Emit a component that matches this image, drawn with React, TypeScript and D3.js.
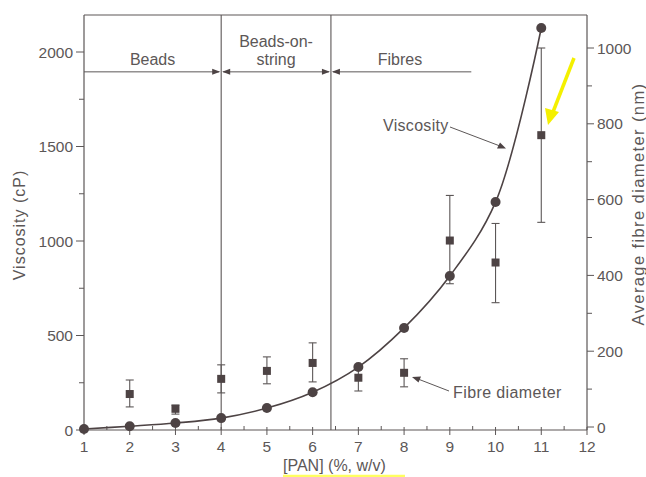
import * as d3 from "d3";

// [PAN] concentration (%, w/v)
const conc = [1, 2, 3, 4, 5, 6, 7, 8, 9, 10, 11];
// viscosity (cP), left axis
const viscosity = [5, 20, 37, 63, 116, 200, 333, 540, 815, 1206, 2127];
// average fibre diameter (nm), right axis, with error bar ends
const diamConc = [2, 3, 4, 5, 6, 7, 8, 9, 10, 11];
const diameter = [87, 48, 127, 148, 169, 130, 143, 492, 434, 770];
const diamLow = [53, 34, 90, 114, 119, 95, 106, 378, 328, 540];
const diamHigh = [124, 58, 164, 185, 222, 156, 180, 611, 537, 1000];

const xTicks = [1, 2, 3, 4, 5, 6, 7, 8, 9, 10, 11, 12];
const leftTicks = [0, 500, 1000, 1500, 2000];
const rightTicks = [0, 200, 400, 600, 800, 1000];

// morphology regions (boundaries in % w/v)
const regionBounds = [4, 6.4];
const regionArrowLevel = 1895;
const fibresArrowEnd = 9.47;

const ink = "#4d4344";
const grey = "#5c5757";
const font = "'Liberation Sans', Arial, sans-serif";

export default function App() {
  const W = 646;
  const H = 477;
  const x = d3.scaleLinear().domain([1, 12]).range([84, 587]);
  const yL = d3.scaleLinear().domain([0, 2000]).range([430, 52]);
  const yR = d3.scaleLinear().domain([0, 1000]).range([427, 48]);
  const top = 15;
  const bottom = yL(0);

  const line = d3
    .line<number>()
    .x((_, i) => x(conc[i]))
    .y((d) => yL(d))
    .curve(d3.curveCatmullRom.alpha(0.5));

  const leftMinor = d3.range(250, 2250, 500);
  const rightMinor = d3.range(100, 1100, 200);
  const xMinor = d3.range(1.5, 12, 1);

  const arrowY = yL(regionArrowLevel);
  const head = (tipX: number, y: number, dir: number) =>
    `M${tipX},${y} L${tipX - dir * 8},${y - 3} L${tipX - dir * 8},${y + 3} Z`;

  const tickFs = 15.5;
  const annFs = 16;

  return (
    <div style={{ position: "fixed", left: 0, top: 0, width: W, height: H, background: "#fff" }}>
      <svg width={W} height={H} fontFamily={font}>
        {/* frame */}
        <line x1={x(1)} x2={x(12)} y1={top} y2={top} stroke={grey} strokeWidth={1.2} />
        <line x1={x(1)} x2={x(1)} y1={top} y2={bottom} stroke={grey} strokeWidth={1.2} />
        <line x1={x(12)} x2={x(12)} y1={top} y2={bottom} stroke={grey} strokeWidth={1.2} />
        <line x1={x(1)} x2={x(12)} y1={bottom} y2={bottom} stroke={grey} strokeWidth={1.2} />

        {/* x axis ticks */}
        {xTicks.map((t) => (
          <g key={t}>
            <line x1={x(t)} x2={x(t)} y1={bottom - 3} y2={bottom + 5} stroke={grey} />
            <text x={x(t)} y={bottom + 22} textAnchor="middle" fontSize={tickFs} fill={grey}>
              {t}
            </text>
          </g>
        ))}
        {xMinor.map((t) => (
          <line key={t} x1={x(t)} x2={x(t)} y1={bottom - 4} y2={bottom} stroke={grey} />
        ))}

        {/* left axis */}
        {leftTicks.map((t) => (
          <g key={t}>
            <line x1={x(1) - 8} x2={x(1)} y1={yL(t)} y2={yL(t)} stroke={grey} />
            <text x={x(1) - 11} y={yL(t) + 5.5} textAnchor="end" fontSize={tickFs} fill={grey}>
              {t}
            </text>
          </g>
        ))}
        {leftMinor.map((t) => (
          <line key={t} x1={x(1) - 5} x2={x(1)} y1={yL(t)} y2={yL(t)} stroke={grey} />
        ))}

        {/* right axis */}
        {rightTicks.map((t) => (
          <g key={t}>
            <line x1={x(12)} x2={x(12) + 7} y1={yR(t)} y2={yR(t)} stroke={grey} />
            <text x={x(12) + 10} y={yR(t) + 5.5} textAnchor="start" fontSize={tickFs} fill={grey}>
              {t}
            </text>
          </g>
        ))}
        {rightMinor.map((t) => (
          <line key={t} x1={x(12)} x2={x(12) + 5} y1={yR(t)} y2={yR(t)} stroke={grey} />
        ))}

        {/* axis titles */}
        <text
          transform={`translate(25,225) rotate(-90)`}
          textAnchor="middle"
          fontSize={16}
          letterSpacing={1}
          fill={grey}
        >
          Viscosity (cP)
        </text>
        <text
          transform={`translate(644,204) rotate(-90)`}
          textAnchor="middle"
          fontSize={16.5}
          letterSpacing={1.4}
          fill={grey}
        >
          Average fibre diameter (nm)
        </text>
        <text x={283} y={471} fontSize={annFs} fill={grey}>
          [PAN] (%, w/v)
        </text>
        <line x1={283} x2={405} y1={476} y2={476} stroke="#ffff60" strokeWidth={2.5} />

        {/* morphology regions */}
        {regionBounds.map((b) => (
          <line key={b} x1={x(b)} x2={x(b)} y1={top} y2={bottom} stroke={grey} strokeWidth={1.1} />
        ))}
        <line x1={x(1)} x2={x(4) - 2} y1={arrowY} y2={arrowY} stroke={grey} />
        <path d={head(x(4) - 1, arrowY, 1)} fill={ink} />
        <line x1={x(4) + 2} x2={x(6.4) - 2} y1={arrowY} y2={arrowY} stroke={grey} />
        <path d={head(x(4) + 1, arrowY, -1)} fill={ink} />
        <path d={head(x(6.4) - 1, arrowY, 1)} fill={ink} />
        <line x1={x(6.4) + 2} x2={x(fibresArrowEnd)} y1={arrowY} y2={arrowY} stroke={grey} />
        <path d={head(x(6.4) + 1, arrowY, -1)} fill={ink} />
        <text x={(x(1) + x(4)) / 2} y={arrowY - 7} textAnchor="middle" fontSize={annFs} fill={grey}>
          Beads
        </text>
        <text x={(x(4) + x(6.4)) / 2} y={arrowY - 25} textAnchor="middle" fontSize={annFs} fill={grey}>
          Beads-on-
        </text>
        <text x={(x(4) + x(6.4)) / 2} y={arrowY - 7} textAnchor="middle" fontSize={annFs} fill={grey}>
          string
        </text>
        <text x={400} y={arrowY - 7} textAnchor="middle" fontSize={annFs} fill={grey}>
          Fibres
        </text>

        {/* viscosity curve */}
        <path d={line(viscosity) ?? ""} fill="none" stroke={ink} strokeWidth={1.6} />

        {/* fibre diameter error bars */}
        {diamConc.map((c, i) => (
          <g key={c} stroke={grey} strokeWidth={1.1}>
            <line x1={x(c)} x2={x(c)} y1={yR(diamLow[i])} y2={yR(diamHigh[i])} />
            <line x1={x(c) - 4} x2={x(c) + 4} y1={yR(diamLow[i])} y2={yR(diamLow[i])} />
            <line x1={x(c) - 4} x2={x(c) + 4} y1={yR(diamHigh[i])} y2={yR(diamHigh[i])} />
          </g>
        ))}
        {diamConc.map((c, i) => (
          <rect key={c} x={x(c) - 4} y={yR(diameter[i]) - 4} width={8} height={8} fill={ink} />
        ))}

        {/* viscosity markers */}
        {conc.map((c, i) => (
          <circle key={c} cx={x(c)} cy={yL(viscosity[i])} r={5} fill={ink} />
        ))}

        {/* callouts */}
        <text x={383} y={131} fontSize={annFs} letterSpacing={0.3} fill={grey}>
          Viscosity
        </text>
        <line x1={450} x2={500} y1={127} y2={146} stroke={grey} />
        <path d="M506,148.5 L497,148.5 L500,142.5 Z" fill={ink} />
        <text x={453} y={398} fontSize={annFs} letterSpacing={0.4} fill={grey}>
          Fibre diameter
        </text>
        <line x1={449} x2={418} y1={391} y2={379} stroke={grey} />
        <path d="M412,377 L421,376.5 L418.5,382.5 Z" fill={ink} />

        {/* highlight arrow */}
        <line x1={574} x2={553} y1={58} y2={112} stroke="#f4f000" strokeWidth={3.5} />
        <path d="M548,125 L545,108 L559,112 Z" fill="#f4f000" />
      </svg>
    </div>
  );
}
